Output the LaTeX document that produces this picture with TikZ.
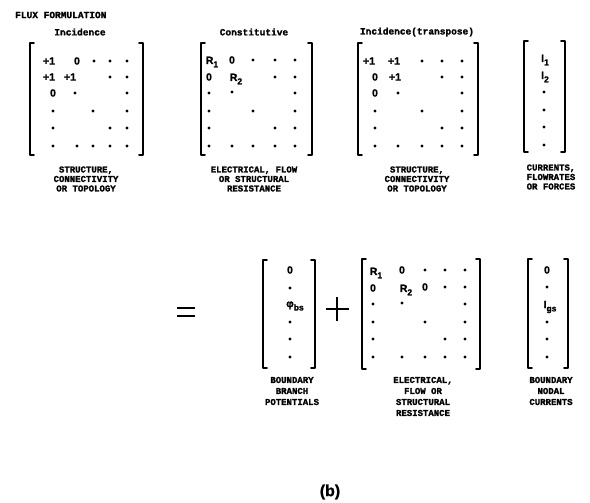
\documentclass[tikz,border=0pt]{standalone}
\usepackage{fontspec}
\newfontfamily\capfont{Liberation Mono}[BoldFeatures={FakeBold=1.6}]
\newfontfamily\entfont{Liberation Sans}[BoldFeatures={FakeBold=1.2}]
\newcommand\sbs[1]{\raisebox{-0.6ex}{\fontsize{8.5}{8.5}\selectfont #1}}
\tikzset{
  brk/.style={line width=1.8pt, line cap=round, line join=round},
  ent/.style={inner sep=0pt, font=\entfont\bfseries\fontsize{10.5}{10.5}\selectfont},
  ttl/.style={inner sep=0pt, font=\capfont\bfseries\fontsize{9.5}{9.5}\selectfont},
  captext/.style={inner sep=0pt, align=center, font=\capfont\bfseries\fontsize{9}{9.5}\selectfont},
  captextb/.style={inner sep=0pt, align=center, font=\capfont\bfseries\fontsize{9}{11}\selectfont},
  sym/.style={line width=2pt}
}
% left / right square brackets: x, top y, bottom y
\newcommand\lbrk[3]{\draw[brk] (#1+4,#2) -- (#1,#2) -- (#1,#3) -- (#1+4,#3);}
\newcommand\rbrk[3]{\draw[brk] (#1-4,#2) -- (#1,#2) -- (#1,#3) -- (#1-4,#3);}
\newcommand\dotpt[2]{\fill (#1,#2) circle (1.7);}
\begin{document}
\begin{tikzpicture}[x=1pt,y=-1pt]
\useasboundingbox[fill=white] (0,0) rectangle (590,503);

% headings
\node[ttl, anchor=west] (head) at (15,15) {FLUX FORMULATION};
\node[ttl] (t1) at (80,32) {Incidence};
\node[ttl] (t2) at (254,32) {Constitutive};
\node[ttl] (t3) at (417,32) {Incidence(transpose)};

% ---------- incidence matrix ----------
\lbrk{30}{43}{155} \rbrk{143}{43}{155}
\node[ent] (a11) at (49,61) {+1};
\node[ent] (a12) at (77,61) {0};
\dotpt{94}{61} \dotpt{110}{61} \dotpt{127}{61}
\node[ent] (a21) at (49,77) {+1};
\node[ent] (a22) at (70,77) {+1};
\dotpt{110}{77} \dotpt{127}{77}
\node[ent] (a31) at (53,93) {0};
\dotpt{75}{93} \dotpt{127}{93}
\dotpt{53}{111} \dotpt{93}{111} \dotpt{127}{111}
\dotpt{53}{128} \dotpt{110}{128} \dotpt{127}{128}
\dotpt{53}{146} \dotpt{77}{146} \dotpt{93}{146} \dotpt{110}{146} \dotpt{127}{146}
\node[captext] (c1) at (86,179) {STRUCTURE,\\CONNECTIVITY\\OR TOPOLOGY};

% ---------- constitutive matrix ----------
\lbrk{201}{43}{155} \rbrk{312}{43}{155}
\node[ent] (b11) at (212,62) {R\sbs{1}};
\node[ent] (b12) at (232,60) {0};
\dotpt{253}{60} \dotpt{275}{60} \dotpt{295}{60}
\node[ent] (b21) at (209,77) {0};
\node[ent] (b22) at (236,79) {R\sbs{2}};
\dotpt{275}{77} \dotpt{295}{77}
\dotpt{209}{93} \dotpt{232}{92} \dotpt{295}{93}
\dotpt{209}{111} \dotpt{253}{111} \dotpt{295}{111}
\dotpt{209}{128} \dotpt{275}{128} \dotpt{295}{128}
\dotpt{209}{146} \dotpt{232}{146} \dotpt{253}{146} \dotpt{275}{146} \dotpt{295}{146}
\node[captext] (c2) at (254,179) {ELECTRICAL, FLOW\\OR STRUCTURAL\\RESISTANCE};

% ---------- transposed incidence matrix ----------
\lbrk{358}{43}{155} \rbrk{478}{43}{155}
\node[ent] (d11) at (369,61) {+1};
\node[ent] (d12) at (394,61) {+1};
\dotpt{422}{61} \dotpt{442}{61} \dotpt{462}{61}
\node[ent] (d21) at (375,77) {0};
\node[ent] (d22) at (395,77) {+1};
\dotpt{442}{77} \dotpt{462}{77}
\node[ent] (d31) at (375,93) {0};
\dotpt{398}{93} \dotpt{462}{93}
\dotpt{375}{111} \dotpt{422}{111} \dotpt{462}{111}
\dotpt{375}{128} \dotpt{442}{128} \dotpt{462}{128}
\dotpt{375}{146} \dotpt{398}{146} \dotpt{422}{146} \dotpt{442}{146} \dotpt{462}{146}
\node[captext] (c3) at (417,179) {STRUCTURE,\\CONNECTIVITY\\OR TOPOLOGY};

% ---------- current vector ----------
\lbrk{524}{41}{152} \rbrk{565}{41}{152}
\node[ent] (e1) at (545,60) {I\sbs{1}};
\node[ent] (e2) at (545,77) {I\sbs{2}};
\dotpt{544}{92} \dotpt{544}{110} \dotpt{544}{127} \dotpt{544}{145}
\node[captext] (c4) at (551,177) {CURRENTS,\\FLOWRATES\\OR FORCES};

% ---------- right-hand side ----------
\draw[sym] (177,308) -- (195,308);
\draw[sym] (177,316) -- (195,316);

% boundary branch potentials
\lbrk{263}{260}{368} \rbrk{315}{260}{368}
\node[ent] (f1) at (290,270) {0};
\dotpt{290}{288}
\node[ent] (f3) at (295,306) {φ\sbs{bs}};
\dotpt{290}{322} \dotpt{290}{339} \dotpt{290}{357}
\node[captextb] (c5) at (292,391) {BOUNDARY\\BRANCH\\POTENTIALS};

% plus sign
\draw[sym] (326,309) -- (349,309);
\draw[sym] (337,297) -- (337,321);

% resistance matrix
\lbrk{362}{259}{369} \rbrk{480}{259}{369}
\node[ent] (g11) at (376,273) {R\sbs{1}};
\node[ent] (g12) at (402,270) {0};
\dotpt{425}{270} \dotpt{445}{270} \dotpt{465}{270}
\node[ent] (g21) at (373,288) {0};
\node[ent] (g22) at (406,290) {R\sbs{2}};
\node[ent] (g23) at (425,287) {0};
\dotpt{445}{287} \dotpt{465}{287}
\dotpt{373}{304} \dotpt{402}{303} \dotpt{465}{304}
\dotpt{373}{322} \dotpt{425}{322} \dotpt{465}{322}
\dotpt{373}{339} \dotpt{445}{339} \dotpt{465}{339}
\dotpt{373}{357} \dotpt{402}{357} \dotpt{425}{357} \dotpt{445}{357} \dotpt{465}{357}
\node[captextb] (c6) at (423,396.5) {ELECTRICAL,\\FLOW OR\\STRUCTURAL\\RESISTANCE};

% boundary nodal currents
\lbrk{528}{259}{368} \rbrk{568}{259}{368}
\node[ent] (h1) at (547,270) {0};
\dotpt{547}{287}
\node[ent] (h3) at (550,307) {I\sbs{gs}};
\dotpt{547}{322} \dotpt{547}{339} \dotpt{547}{357}
\node[captextb] (c7) at (551,391) {BOUNDARY\\NODAL\\CURRENTS};

% figure label
\node[inner sep=0pt, font=\entfont\bfseries\fontsize{16}{16}\selectfont] (lbl) at (330,492) {(b)};
\end{tikzpicture}
\end{document}
